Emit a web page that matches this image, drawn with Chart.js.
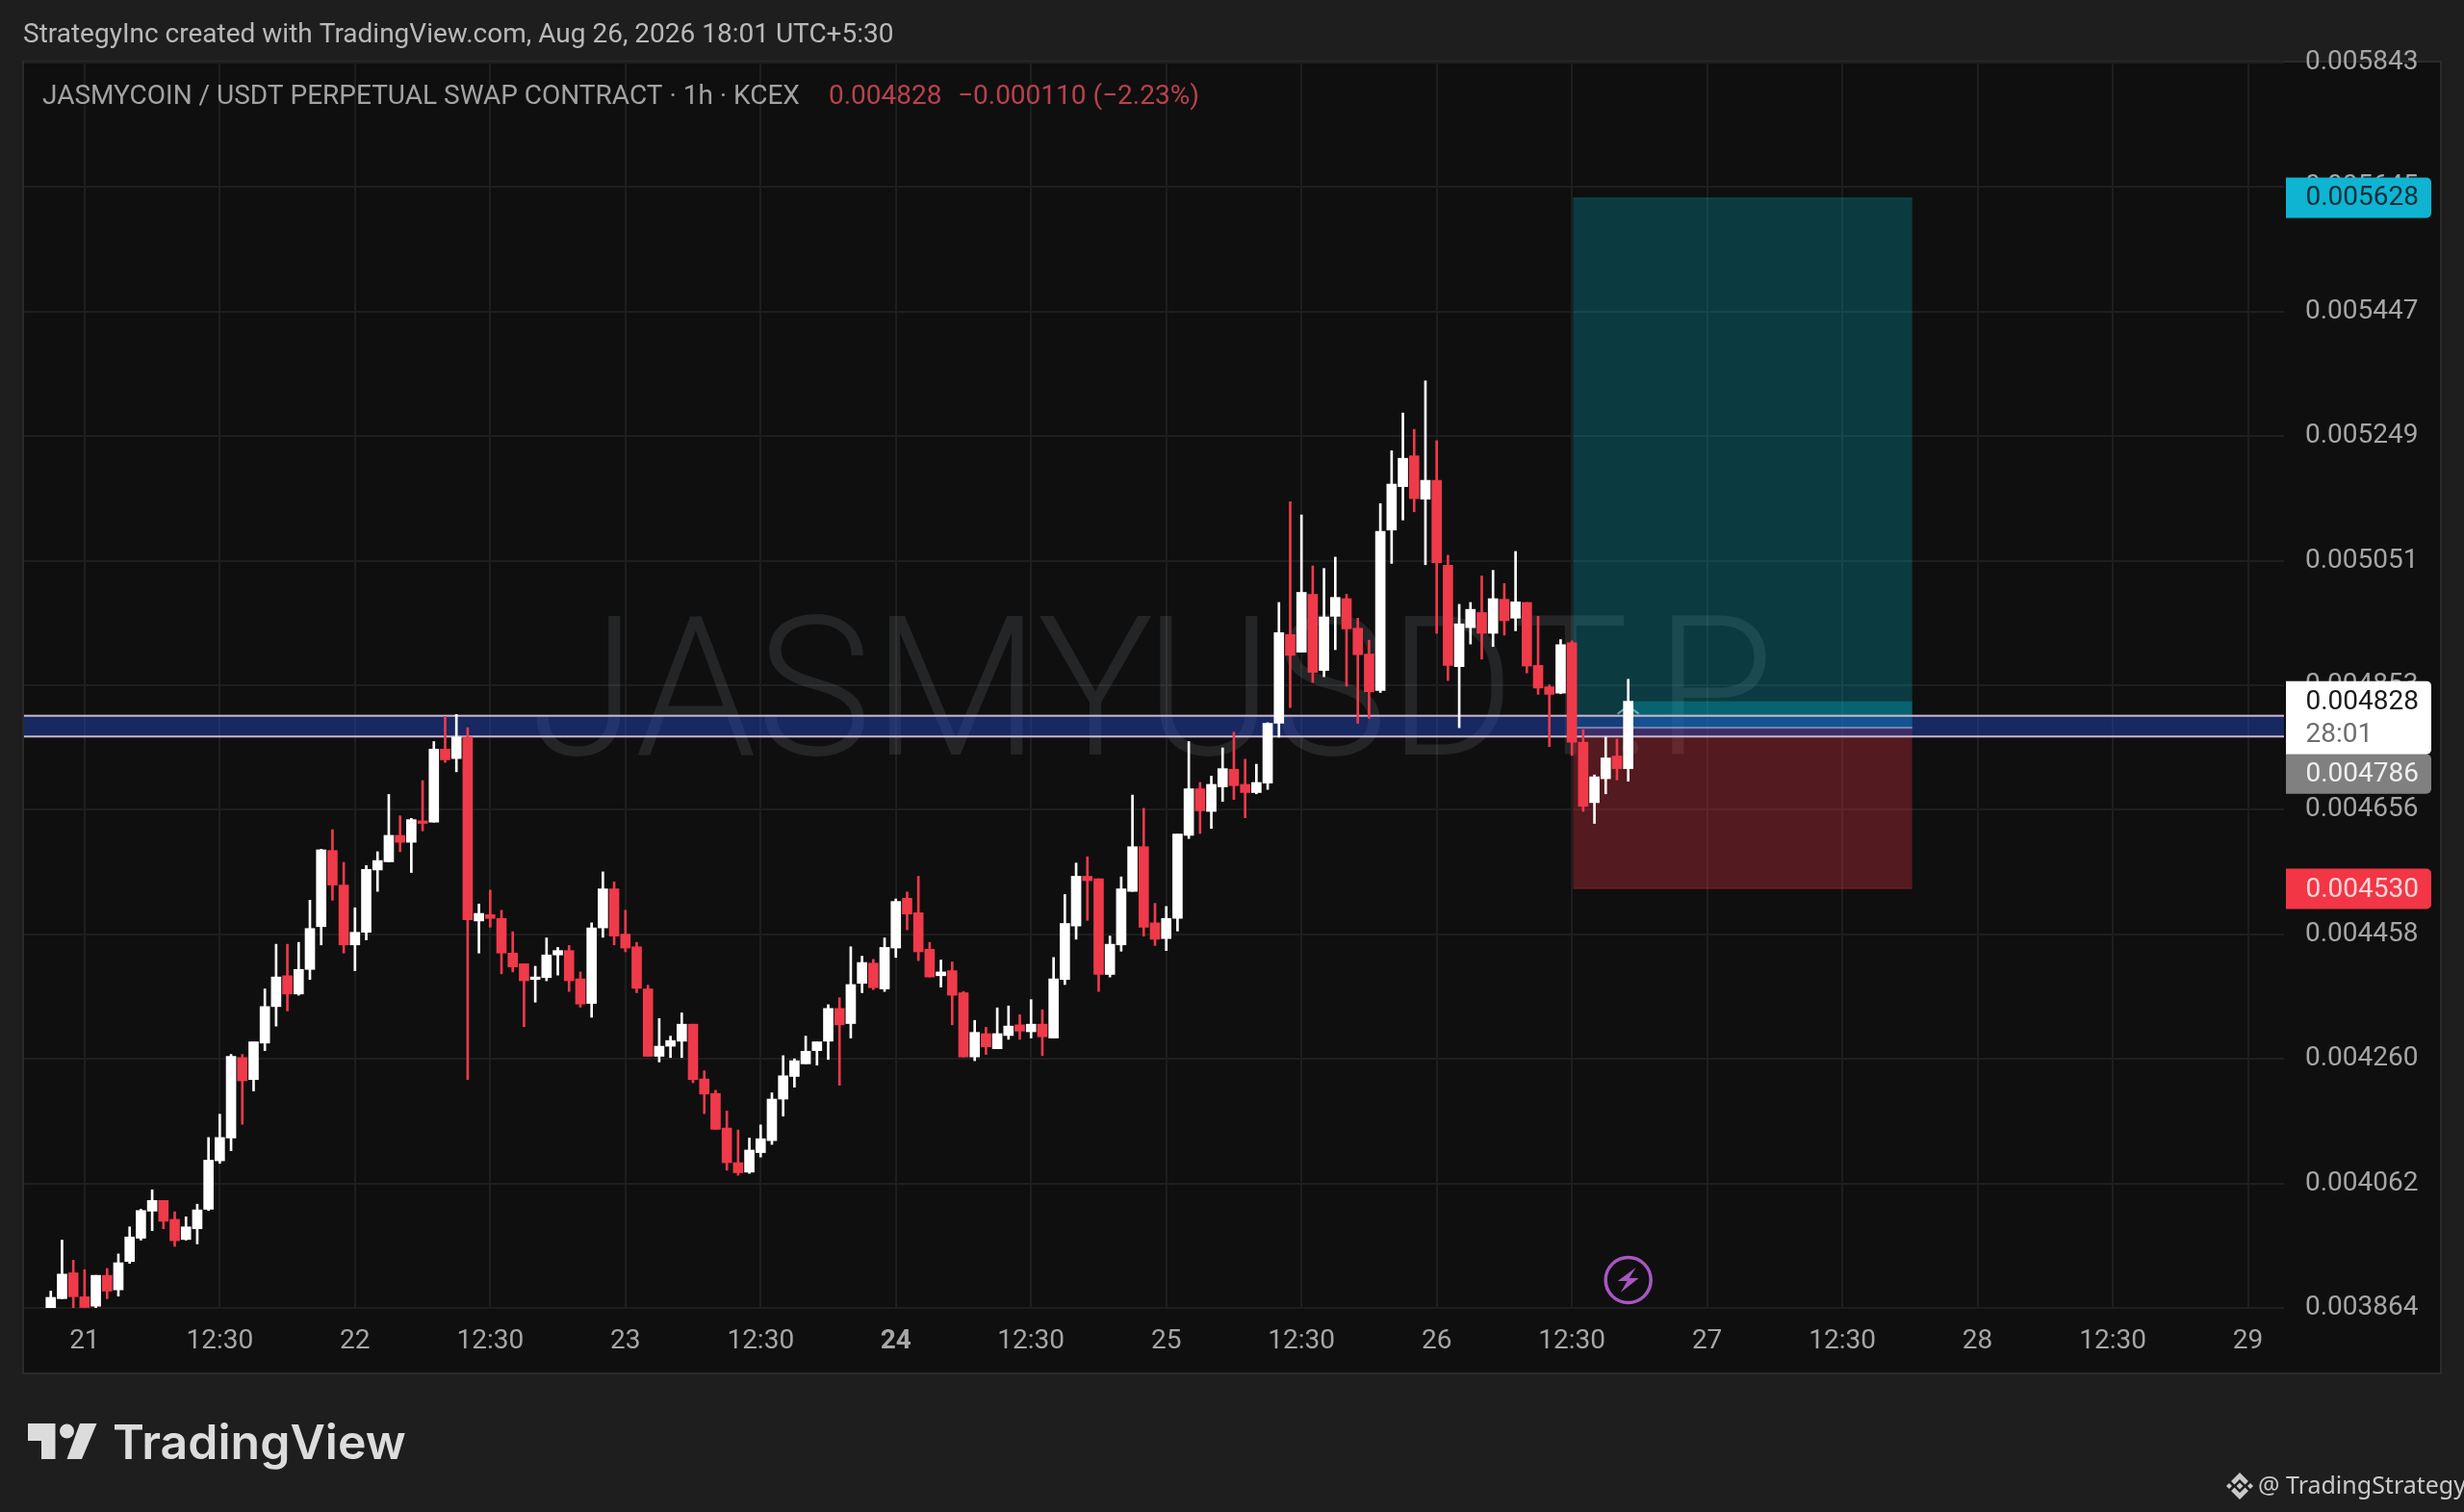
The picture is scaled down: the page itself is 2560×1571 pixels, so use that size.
<!DOCTYPE html>
<html>
<head>
<meta charset="utf-8">
<title>JASMYUSDT.P 1h</title>
<script src="https://cdn.jsdelivr.net/npm/chart.js@4"></script>
<style>
  html, body { margin: 0; padding: 0; background: #1e1e1e; }
  canvas { display: block; }
</style>
</head>
<body>
<canvas id="tvChart" width="2560" height="1571"></canvas>
<script>
// prices are in millionths of USDT (3864 = 0.003864), one entry per 1h candle
const opens = [3864,3879,3920,3882,3867,3916,3893,3938,3975,4018,4035,4005,3973,3990,4021,4098,4134,4262,4227,4285,
  4343,4392,4363,4402,4470,4591,4536,4441,4461,4560,4573,4615,4604,4638,4636,4752,4737,4771,4479,4489,
  4483,4428,4411,4386,4389,4425,4432,4387,4348,4468,4530,4458,4438,4371,4264,4280,4288,4315,4228,4205,
  4150,4095,4080,4111,4130,4196,4232,4252,4273,4288,4340,4316,4380,4412,4371,4436,4515,4492,4434,4392,
  4400,4365,4263,4300,4276,4297,4314,4303,4315,4293,4386,4471,4550,4546,4394,4441,4526,4597,4476,4451,
  4483,4615,4689,4653,4692,4720,4696,4683,4698,4793,4934,4906,4998,4877,4963,4991,4944,4903,4845,5100,
  5169,5218,5149,5179,5044,4883,4945,4969,4936,4990,4960,4985,4885,4851,4841,4921,4763,4667,4705,4741,4721];
const highs = [3891,3972,3940,3925,3916,3927,3950,3993,4021,4052,4035,4017,4009,4029,4135,4172,4267,4267,4287,4371,
  4442,4442,4445,4512,4593,4624,4572,4500,4567,4589,4680,4646,4642,4702,4764,4804,4807,4786,4506,4528,
  4496,4462,4411,4407,4452,4437,4440,4398,4476,4557,4541,4496,4445,4377,4324,4296,4333,4315,4241,4210,
  4177,4147,4134,4155,4206,4265,4260,4296,4287,4346,4357,4438,4423,4418,4452,4514,4525,4550,4445,4417,
  4414,4367,4321,4310,4341,4344,4330,4354,4338,4421,4521,4571,4581,4546,4455,4549,4679,4658,4507,4502,
  4617,4764,4699,4709,4754,4779,4736,4728,4794,4985,5145,5124,5043,5039,5057,4998,4960,4925,5142,5226,
  5286,5260,5337,5242,5060,4982,4985,5027,5036,5015,5066,4985,4963,4854,4926,4924,4783,4711,4771,4768,4863];
const lows = [3864,3879,3864,3864,3864,3879,3883,3935,3972,3987,3990,3962,3972,3966,4019,4094,4114,4156,4209,4273,
  4312,4336,4361,4386,4441,4512,4428,4400,4449,4526,4573,4589,4556,4622,4636,4731,4716,4227,4428,4469,
  4395,4398,4311,4350,4384,4393,4367,4342,4326,4453,4441,4430,4365,4264,4255,4262,4262,4222,4173,4148,
  4083,4075,4078,4104,4124,4169,4215,4252,4250,4259,4218,4293,4365,4370,4367,4421,4465,4416,4390,4374,
  4314,4263,4257,4267,4276,4291,4291,4293,4265,4293,4378,4450,4480,4367,4390,4431,4526,4455,4440,4432,
  4463,4610,4618,4626,4669,4672,4643,4681,4688,4771,4818,4906,4858,4867,4910,4852,4793,4801,4842,5047,
  5116,5129,5045,4936,4861,4786,4919,4895,4915,4933,4940,4873,4839,4756,4840,4742,4653,4634,4681,4703,4701];
const closes = [3881,3918,3882,3865,3916,3891,3936,3977,4019,4035,4002,3971,3993,4020,4099,4135,4264,4225,4287,4343,
  4390,4363,4402,4467,4592,4536,4441,4461,4561,4575,4615,4604,4640,4634,4752,4735,4771,4481,4491,4483,
  4428,4406,4384,4390,4425,4432,4384,4347,4468,4530,4455,4436,4372,4264,4280,4289,4315,4227,4204,4148,
  4095,4079,4115,4133,4196,4233,4257,4272,4287,4340,4314,4378,4413,4373,4437,4510,4490,4430,4390,4398,
  4361,4263,4302,4279,4300,4312,4304,4315,4295,4387,4475,4550,4543,4394,4442,4530,4597,4469,4450,4483,
  4617,4689,4654,4696,4721,4694,4683,4699,4793,4937,4901,5001,4874,4962,4993,4943,4902,4843,5098,5173,
  5214,5150,5179,5048,4885,4951,4974,4936,4991,4956,4986,4884,4849,4839,4918,4763,4661,4708,4738,4721,4828];

const timeLabels = ['21','12:30','22','12:30','23','12:30','24','12:30','25','12:30','26','12:30','27','12:30','28','12:30','29'];
const boldTimeLabels = ['24'];
const boldPrices = [4000, 5000];

// drawings on the chart
const zoneLow = 4772, zoneHigh = 4805;      // blue horizontal zone
const takeProfit = 5628, entryPrice = 4786, stopLoss = 4530, lastPrice = 4828;
const boxStartHour = 132.1, boxEndHour = 162.2;   // long position tool, in hours from "21"
const lastHour = 137;

const upColor = '#ffffff';
const downColor = '#ef3a4a';
const candleColors = closes.map((c, i) => c >= opens[i] ? upColor : downColor);

const fmtPrice = v => (v / 1e6).toFixed(6);
const FONT = 'Roboto, sans-serif';

function poly(ctx, pts, ox, oy) {
  ctx.beginPath();
  pts.forEach((p, i) => i ? ctx.lineTo(ox + p[0], oy + p[1]) : ctx.moveTo(ox + p[0], oy + p[1]));
  ctx.closePath();
  ctx.fill();
}

function priceTag(ctx, left, top, w, h, bg, text, color, textY) {
  ctx.fillStyle = bg;
  ctx.beginPath();
  ctx.roundRect(left, top, w, h, [0, 5, 5, 0]);
  ctx.fill();
  ctx.fillStyle = color;
  ctx.font = '400 28px ' + FONT;
  ctx.textAlign = 'left';
  ctx.textBaseline = 'middle';
  ctx.fillText(text, left + 20.5, textY === undefined ? top + h / 2 + 1 : textY);
}

// pane background + watermark go under the grid / candles
const paneBackground = {
  id: 'paneBackground',
  beforeDraw(chart) {
    const { ctx } = chart;
    ctx.save();
    ctx.fillStyle = '#2a2a2a';
    ctx.fillRect(23, 63, 2514, 1365);
    ctx.fillStyle = '#0f0f0f';
    ctx.fillRect(25, 65, 2510, 1361);
    ctx.restore();
  }
};

const drawings = {
  id: 'drawings',
  beforeDatasetsDraw(chart) {
    const { ctx, scales: { x, y }, chartArea: area } = chart;
    ctx.save();

    // watermark
    ctx.font = '300 202px ' + FONT;
    ctx.textAlign = 'center';
    ctx.textBaseline = 'alphabetic';
    ctx.fillStyle = 'rgba(205,215,235,0.11)';
    ctx.fillText('JASMYUSDT.P', 1197, 784);

    // long position box
    const bx0 = x.getPixelForValue(boxStartHour), bx1 = x.getPixelForValue(boxEndHour);
    const yTp = y.getPixelForValue(takeProfit), yEntry = y.getPixelForValue(entryPrice);
    const ySl = y.getPixelForValue(stopLoss), yLast = y.getPixelForValue(lastPrice);
    ctx.fillStyle = 'rgba(0,188,212,0.25)';
    ctx.fillRect(bx0, yTp, bx1 - bx0, yEntry - yTp);
    ctx.fillStyle = 'rgba(242,54,69,0.3)';
    ctx.fillRect(bx0, yEntry, bx1 - bx0, ySl - yEntry);
    const lastX = x.getPixelForValue(lastHour);
    ctx.fillStyle = 'rgba(0,188,212,0.32)';
    ctx.fillRect(lastX, yLast, bx1 - lastX, yEntry - yLast);
    ctx.fillStyle = 'rgba(242,54,69,0.25)';
    ctx.fillRect(bx0, ySl - 1, bx1 - bx0, 1);
    ctx.fillStyle = 'rgba(0,188,212,0.2)';
    ctx.fillRect(bx0, yTp, bx1 - bx0, 1);

    // blue zone
    const yz0 = y.getPixelForValue(zoneHigh), yz1 = y.getPixelForValue(zoneLow);
    ctx.fillStyle = 'rgba(33,66,180,0.5)';
    ctx.fillRect(area.left, yz0, area.right - area.left, yz1 - yz0);
    ctx.fillStyle = '#cdb9cf';
    ctx.fillRect(area.left, yz0 - 1, area.right - area.left, 2);
    ctx.fillRect(area.left, yz1 - 1, area.right - area.left, 2);

    // entry line
    ctx.fillStyle = 'rgba(190,190,220,0.55)';
    ctx.fillRect(bx0, yEntry - 1, bx1 - bx0, 2);

    // little arrow of the position tool
    ctx.strokeStyle = 'rgba(150,215,215,0.65)';
    ctx.lineWidth = 2;
    ctx.beginPath();
    ctx.moveTo(lastX - 11, yLast + 13);
    ctx.lineTo(lastX, yLast + 5);
    ctx.lineTo(lastX + 11, yLast + 13);
    ctx.stroke();
    ctx.restore();
  },
  afterDraw(chart) {
    const { ctx, scales: { x, y } } = chart;
    ctx.save();

    // title row
    ctx.textBaseline = 'middle';
    ctx.textAlign = 'left';
    ctx.font = '400 28px ' + FONT;
    ctx.fillStyle = '#b9b9b9';
    ctx.fillText('StrategyInc created with TradingView.com, Aug 26, 2026 18:01 UTC+5:30', 24, 37);
    ctx.fillStyle = '#a2a2a2';
    ctx.fillText('JASMYCOIN / USDT PERPETUAL SWAP CONTRACT · 1h · KCEX', 44, 101);
    ctx.fillStyle = '#b8424d';
    ctx.fillText('0.004828', 861, 101);
    ctx.fillText('−0.000110 (−2.23%)', 995, 101);

    // price tags on the axis
    const tagX = 2375, tagW = 151;
    const yTp = y.getPixelForValue(takeProfit), ySl = y.getPixelForValue(stopLoss);
    const yLast = y.getPixelForValue(lastPrice);
    priceTag(ctx, tagX, yTp - 21, tagW, 42, '#0fb4d2', fmtPrice(takeProfit), '#10303a');
    priceTag(ctx, tagX, ySl - 21, tagW, 42, '#f23645', fmtPrice(stopLoss), '#fbd7da');
    priceTag(ctx, tagX, yLast + 55, tagW, 41, '#808080', fmtPrice(entryPrice), '#f0f0f0');
    priceTag(ctx, tagX, yLast - 21, tagW, 76, '#ffffff', fmtPrice(lastPrice), '#1a1a1a', yLast + 1);
    ctx.font = '400 28px ' + FONT;
    ctx.fillStyle = '#6e6e6e';
    ctx.fillText('28:01', tagX + 20.5, yLast + 35);

    // lightning mark under the last candle
    const cx = x.getPixelForValue(lastHour), cy = 1330;
    ctx.strokeStyle = '#a956c4';
    ctx.lineWidth = 3.5;
    ctx.beginPath();
    ctx.arc(cx, cy, 23.5, 0, Math.PI * 2);
    ctx.stroke();
    ctx.fillStyle = '#a956c4';
    poly(ctx, [[8, -13], [-11, 1], [-1, 1], [-8, 13], [11, -2], [1, -2]], cx, cy);

    // TradingView logo
    ctx.fillStyle = '#dcdcdc';
    poly(ctx, [[29, 1479], [57.5, 1479], [57.5, 1516], [43, 1516], [43, 1497], [29, 1497]], 0, 0);
    ctx.beginPath();
    ctx.arc(69.5, 1487, 7.5, 0, Math.PI * 2);
    ctx.fill();
    poly(ctx, [[83, 1479], [100.5, 1479], [85, 1516], [69.5, 1516]], 0, 0);
    ctx.font = '600 50px Inter, sans-serif';
    ctx.textBaseline = 'alphabetic';
    ctx.fillText('TradingView', 117, 1515.5);

    // bottom right signature
    ctx.fillStyle = '#c9c9c9';
    const bx = 2327, by = 1544;
    poly(ctx, [[0, -14], [9, -5], [5.5, -1.5], [0, -7], [-5.5, -1.5], [-9, -5]], bx, by);
    poly(ctx, [[0, 14], [9, 5], [5.5, 1.5], [0, 7], [-5.5, 1.5], [-9, 5]], bx, by);
    poly(ctx, [[0, -3.5], [3.5, 0], [0, 3.5], [-3.5, 0]], bx, by);
    poly(ctx, [[-11, -3], [-8, 0], [-11, 3], [-14, 0]], bx, by);
    poly(ctx, [[11, -3], [14, 0], [11, 3], [8, 0]], bx, by);
    ctx.font = '400 25px "Noto Sans", sans-serif';
    ctx.textBaseline = 'middle';
    ctx.fillText('@ TradingStrategy', 2346, 1545);
    ctx.restore();
  }
};

const hourOf = i => i - 3;   // first label "21" sits on the 4th candle

new Chart(document.getElementById('tvChart'), {
  type: 'bar',
  data: {
    datasets: [
      {
        // bodies first so they stay above the wicks
        label: 'bodies',
        order: 1,
        barThickness: 10,
        backgroundColor: candleColors,
        data: opens.map((o, i) => ({ x: hourOf(i), y: [Math.min(o, closes[i]), Math.max(o, closes[i])] }))
      },
      {
        label: 'wicks',
        order: 2,
        barThickness: 2,
        backgroundColor: candleColors,
        data: highs.map((h, i) => ({ x: hourOf(i), y: [lows[i], h] }))
      }
    ]
  },
  options: {
    responsive: false,
    animation: false,
    devicePixelRatio: 1,
    grouped: false,
    layout: { padding: { left: 25, top: 65, right: 25, bottom: 145 } },
    plugins: { legend: { display: false }, tooltip: { enabled: false } },
    scales: {
      x: {
        type: 'linear',
        offset: false,
        min: -5.37,
        max: 195.2,
        afterFit(s) { s.height = 67; },
        grid: { color: '#1e1e1e', lineWidth: 2, offset: false, drawTicks: false },
        border: { display: false },
        ticks: {
          stepSize: 12,
          includeBounds: false,
          autoSkip: false,
          maxRotation: 0,
          padding: 18,
          color: '#a6a6a6',
          callback: v => timeLabels[v / 12],
          font: c => ({
            family: 'Roboto',
            size: 28,
            weight: boldTimeLabels.includes(c.tick && c.tick.label) ? '700' : '400'
          })
        }
      },
      y: {
        position: 'right',
        min: 3864.2,
        max: 5842.7,
        afterFit(s) { s.width = 162; },
        grid: { color: '#1e1e1e', lineWidth: 2, drawTicks: false },
        border: { display: false },
        ticks: {
          stepSize: 200,
          includeBounds: false,
          padding: 22,
          color: '#a6a6a6',
          callback: v => fmtPrice(v),
          font: c => ({
            family: 'Roboto',
            size: 28,
            weight: boldPrices.includes(c.tick && c.tick.value) ? '700' : '400'
          })
        }
      }
    }
  },
  plugins: [paneBackground, drawings]
});
</script>
</body>
</html>
